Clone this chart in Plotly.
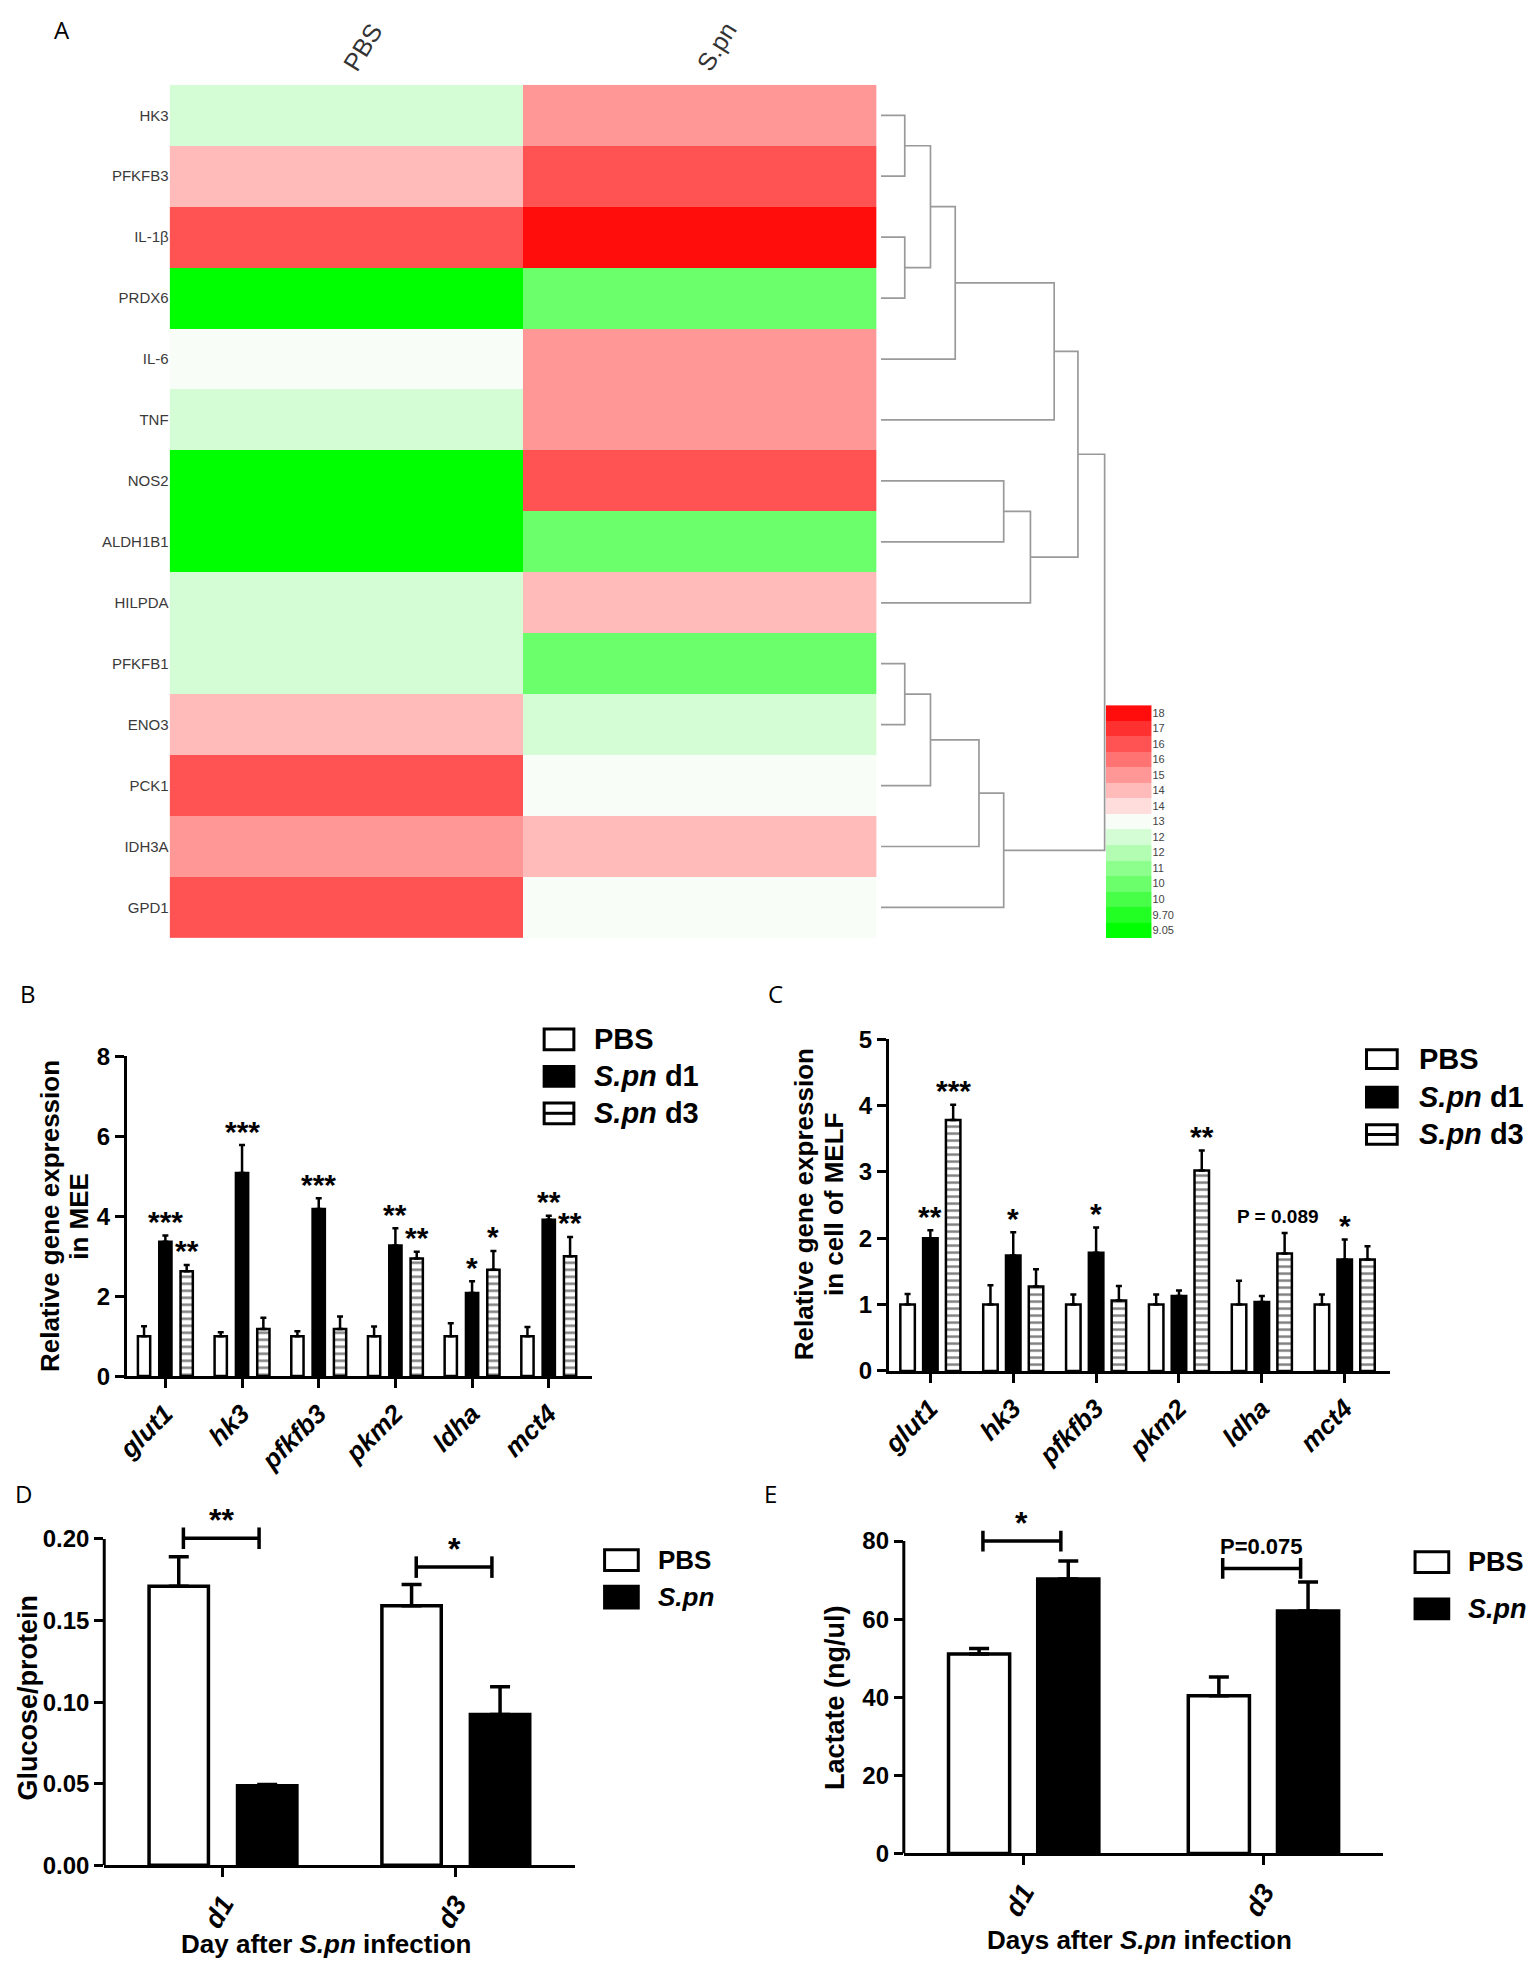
import numpy as np
import plotly.graph_objects as go

# the page body has an 8px margin, so the figure is drawn 16px smaller and all
# reference pixel positions are shifted by that margin
OFF = 8
W, H = 1536 - 2 * OFF, 1980 - 2 * OFF
ARIAL = "Liberation Sans, Arial, sans-serif"
LETTER = "Open Sans, DejaVu Sans, sans-serif"

# ---- panel A: heatmap ----
genes = ["HK3", "PFKFB3", "IL-1β", "PRDX6", "IL-6", "TNF", "NOS2", "ALDH1B1",
         "HILPDA", "PFKFB1", "ENO3", "PCK1", "IDH3A", "GPD1"]
heat_groups = ["PBS", "S.pn"]
pbs_expr = [12.3, 14.3, 16.4, 9.1, 13.0, 12.3, 9.1, 9.1, 12.3, 12.3, 14.3, 16.4, 15.0, 16.4]
spn_expr = [15.0, 16.4, 18.0, 10.3, 15.0, 15.0, 16.4, 10.3, 14.3, 10.3, 12.3, 13.0, 14.3, 13.0]
scale_labels = ["9.05", "9.70", "10", "10", "11", "12", "12", "13", "14", "14", "15", "16", "16", "17", "18"]
scale_edges = [9.0, 9.5, 9.9, 10.2, 10.8, 11.6, 12.1, 12.8, 13.6, 14.1, 14.7, 15.5, 16.2, 16.8, 17.6]
scale_colors = ["#00ff00", "#22ff22", "#46ff46", "#6cff6c", "#8dff8d", "#b2fdb2", "#d5fdd5", "#f8fdf8",
                "#ffdddd", "#ffbaba", "#ff9797", "#ff7373", "#ff5252", "#ff3030", "#ff0d0d"]
# (left node, right node, height) ; leaves are 0..13, new nodes numbered from 14
merges = [(0, 1, 0.24), (2, 3, 0.24), (14, 15, 0.50), (16, 4, 0.75), (17, 5, 1.75),
          (6, 7, 1.24), (19, 8, 1.51), (18, 20, 1.99), (9, 10, 0.24), (22, 11, 0.50),
          (23, 12, 0.99), (24, 13, 1.24), (21, 25, 2.26)]

# ---- panels B, C: relative gene expression ----
targets = ["glut1", "hk3", "pfkfb3", "pkm2", "ldha", "mct4"]
mee_pbs = [1.0, 1.0, 1.0, 1.0, 1.0, 1.0]
mee_pbs_err = [0.25, 0.10, 0.12, 0.24, 0.32, 0.23]
mee_d1 = [3.36, 5.08, 4.18, 3.27, 2.08, 3.91]
mee_d1_err = [0.16, 0.70, 0.27, 0.43, 0.29, 0.10]
mee_d3 = [2.62, 1.18, 1.18, 2.94, 2.66, 3.00]
mee_d3_err = [0.16, 0.28, 0.31, 0.17, 0.47, 0.48]
mee_sig_d1 = ["***", "***", "***", "**", "*", "**"]
mee_sig_d3 = ["**", "", "", "**", "*", "**"]

melf_pbs = [1.0, 1.0, 1.0, 1.0, 1.0, 1.0]
melf_pbs_err = [0.16, 0.29, 0.15, 0.15, 0.36, 0.15]
melf_d1 = [2.00, 1.74, 1.78, 1.13, 1.04, 1.68]
melf_d1_err = [0.12, 0.35, 0.38, 0.08, 0.09, 0.30]
melf_d3 = [3.78, 1.27, 1.06, 3.02, 1.77, 1.68]
melf_d3_err = [0.23, 0.26, 0.22, 0.30, 0.31, 0.20]
melf_sig_d1 = ["**", "*", "*", "", "", "*"]
melf_sig_d3 = ["***", "", "", "**", "P = 0.089", ""]

# ---- panels D, E ----
days = ["d1", "d3"]
glucose_pbs = [0.171, 0.159]
glucose_pbs_err = [0.018, 0.013]
glucose_spn = [0.0487, 0.0924]
glucose_spn_err = [0.0008, 0.017]
glucose_sig = ["**", "*"]
glucose_bracket = [0.2004, 0.1827]

lactate_pbs = [51.1, 40.4]
lactate_pbs_err = [1.4, 4.8]
lactate_spn = [70.3, 62.1]
lactate_spn_err = [4.6, 7.4]
lactate_sig = ["*", "P=0.075"]
lactate_bracket = [80.0, 73.0]


def px(x):
    return (x - OFF) / W


def py(y):
    return 1 - (y - OFF) / H


def to_level(values):
    return [int(np.searchsorted(scale_edges, v, side="right") - 1) for v in values]


def dendrogram_paths(links, n_leaves):
    pos = {i: (float(i), 0.0) for i in range(n_leaves)}
    xs, ys = [], []
    for k, (a, b, h) in enumerate(links):
        ya, ha = pos[a]
        yb, hb = pos[b]
        xs += [ha, h, h, hb, None]
        ys += [ya, ya, yb, yb, None]
        pos[n_leaves + k] = ((ya + yb) / 2, h)
    return xs, ys


def bar(values, errors, shift, width, style, axes, line_w, cap_w, err_w):
    idx = np.arange(len(values))
    marker = {"color": "black" if style == "solid" else "white",
              "line": {"color": "black", "width": line_w}}
    if style == "stripe":
        marker["pattern"] = {"shape": "-", "fgcolor": "black", "bgcolor": "white",
                             "size": 7, "solidity": 0.35, "fillmode": "overlay"}
    return go.Bar(
        x=idx, y=values, width=width, offset=shift - width / 2,
        marker=marker,
        error_y={"type": "data", "symmetric": False, "array": errors,
                 "arrayminus": [0] * len(values), "color": "black",
                 "thickness": err_w, "width": cap_w},
        xaxis=axes[0], yaxis=axes[1], showlegend=False, hoverinfo="skip",
    )


fig = go.Figure()
annotations = []
shapes = []

# heatmap
n_bins = len(scale_colors)
colorscale = []
for i, c in enumerate(scale_colors):
    colorscale += [[i / n_bins, c], [(i + 1) / n_bins, c]]
levels = [[a, b] for a, b in zip(to_level(pbs_expr), to_level(spn_expr))]
fig.add_trace(go.Heatmap(z=levels, x=[0, 1], y=list(range(len(genes))), colorscale=colorscale,
                         zmin=-0.5, zmax=n_bins - 0.5, showscale=False, hoverinfo="skip",
                         xaxis="x", yaxis="y"))
dx, dy = dendrogram_paths(merges, len(genes))
fig.add_trace(go.Scatter(x=dx, y=dy, mode="lines", line={"color": "#9a9a9a", "width": 1.7},
                         xaxis="x2", yaxis="y2", showlegend=False, hoverinfo="skip"))
fig.add_trace(go.Heatmap(z=[[i] for i in range(n_bins)], x=[0], y=list(range(n_bins)),
                         colorscale=colorscale, zmin=-0.5, zmax=n_bins - 0.5, showscale=False,
                         hoverinfo="skip", xaxis="x3", yaxis="y3"))

# B and C
shift3 = {"B": 0.278, "C": 0.275}
for key, axes, data, width in [
    ("B", ("x4", "y4"), (mee_pbs, mee_pbs_err, mee_d1, mee_d1_err, mee_d3, mee_d3_err, mee_sig_d1, mee_sig_d3), 0.16),
    ("C", ("x5", "y5"), (melf_pbs, melf_pbs_err, melf_d1, melf_d1_err, melf_d3, melf_d3_err, melf_sig_d1, melf_sig_d3), 0.175),
]:
    pbs, pbs_e, d1, d1_e, d3, d3_e, sig1, sig3 = data
    s = shift3[key]
    fig.add_trace(bar(pbs, pbs_e, -s, width, "open", axes, 2.5, 3, 2.5))
    fig.add_trace(bar(d1, d1_e, 0.0, width, "solid", axes, 2.5, 3, 2.5))
    fig.add_trace(bar(d3, d3_e, s, width, "stripe", axes, 2.5, 3, 2.5))
    for i in range(len(targets)):
        for lab, val, err, off in [(sig1[i], d1[i], d1_e[i], 0.0), (sig3[i], d3[i], d3_e[i], s)]:
            if not lab:
                continue
            is_p = lab.startswith("P")
            annotations.append(dict(
                x=i + (off - 0.085 if is_p else off), y=val + err, xref=axes[0], yref=axes[1],
                text=lab, showarrow=False, yanchor="middle", yshift=16 if is_p else 14,
                font={"family": ARIAL, "size": 19 if is_p else 30, "color": "black", "weight": "bold"}))

# D and E
for axes, pbs, pbs_e, spn, spn_e, sig, brk, tick, fsize in [
    (("x6", "y6"), glucose_pbs, glucose_pbs_err, glucose_spn, glucose_spn_err, glucose_sig, glucose_bracket, 0.0066, 0.19),
    (("x7", "y7"), lactate_pbs, lactate_pbs_err, lactate_spn, lactate_spn_err, lactate_sig, lactate_bracket, 2.65, 0.186),
]:
    fig.add_trace(bar(pbs, pbs_e, -fsize, 0.255, "open", axes, 3.5, 10, 3.5))
    fig.add_trace(bar(spn, spn_e, fsize, 0.255, "solid", axes, 3.5, 10, 3.5))
    bx, by = [], []
    lo, hi = -0.17, 0.155
    for i, h in enumerate(brk):
        bx += [i + lo, i + lo, None, i + lo, i + hi, None, i + hi, i + hi, None]
        by += [h - tick, h + tick, None, h, h, None, h - tick, h + tick, None]
        is_p = sig[i].startswith("P")
        annotations.append(dict(
            x=i + (lo + hi) / 2, y=h, xref=axes[0], yref=axes[1], text=sig[i], showarrow=False,
            yanchor="middle", yshift=22 if is_p else 18,
            font={"family": ARIAL, "size": 22 if is_p else 32, "color": "black", "weight": "bold"}))
    fig.add_trace(go.Scatter(x=bx, y=by, mode="lines", line={"color": "black", "width": 3.5},
                             xaxis=axes[0], yaxis=axes[1], showlegend=False, hoverinfo="skip"))

# y-axis lines of D and E stop at the top tick
shapes.append(dict(type="line", xref="paper", yref="y6", x0=px(91), x1=px(91), y0=0, y1=0.2,
                   line={"color": "black", "width": 3}))
shapes.append(dict(type="line", xref="paper", yref="y7", x0=px(898), x1=px(898), y0=0, y1=80,
                   line={"color": "black", "width": 3}))


def box_legend(x0, x1, rows, text_x, size):
    for y0, y1, style, text in rows:
        shapes.append(dict(type="rect", xref="paper", yref="paper", x0=px(x0), x1=px(x1),
                           y0=py(y1), y1=py(y0), fillcolor="black" if style == "solid" else "white",
                           line={"color": "black", "width": 3}))
        if style == "stripe":
            shapes.append(dict(type="line", xref="paper", yref="paper", x0=px(x0), x1=px(x1),
                               y0=py((y0 + y1) / 2), y1=py((y0 + y1) / 2),
                               line={"color": "black", "width": 3}))
        annotations.append(dict(x=px(text_x), y=py((y0 + y1) / 2), xref="paper", yref="paper",
                                text=text, showarrow=False, xanchor="left", yanchor="middle",
                                font={"family": ARIAL, "size": size, "color": "black", "weight": "bold"}))


box_legend(535, 565, [(1029, 1050, "open", "PBS"), (1067, 1087, "solid", "<i>S.pn</i> d1"),
                      (1104, 1125, "stripe", "<i>S.pn</i> d3")], 583, 29)
box_legend(1365, 1396, [(1050, 1069, "open", "PBS"), (1088, 1108, "solid", "<i>S.pn</i> d1"),
                        (1126, 1146, "stripe", "<i>S.pn</i> d3")], 1416, 29)
box_legend(596, 630, [(1557, 1578, "open", "PBS"), (1594, 1616, "solid", "<i>S.pn</i>")], 648, 26)
box_legend(1414, 1448, [(1559, 1580, "open", "PBS"), (1607, 1627, "solid", "<i>S.pn</i>")], 1465, 27)

# axis titles and panel letters
for text, x, y, angle, size in [
    ("Relative gene expression", 37, 1219, -90, 26), ("in MEE", 66, 1219, -90, 26),
    ("Relative gene expression", 797, 1207, -90, 26), ("in cell of MELF", 827, 1207, -90, 26),
    ("Glucose/protein", 14, 1707, -90, 27), ("Lactate (ng/ul)", 828, 1707, -90, 27),
    ("Day after <i>S.pn</i> infection", 315, 1957, 0, 26),
    ("Days after <i>S.pn</i> infection", 1136, 1953, 0, 26),
]:
    annotations.append(dict(x=px(x), y=py(y), xref="paper", yref="paper", text=text, textangle=angle,
                            showarrow=False, xanchor="center", yanchor="middle",
                            font={"family": ARIAL, "size": size, "color": "black", "weight": "bold"}))
for letter, x, y in [("A", 48, 16), ("B", 14, 993), ("C", 769, 993), ("D", 10, 1500), ("E", 763, 1500)]:
    annotations.append(dict(x=px(x), y=py(y), xref="paper", yref="paper", text=letter, showarrow=False,
                            xanchor="center", yanchor="middle",
                            font={"family": LETTER, "size": 24, "color": "black"}))

plain = {"showgrid": False, "zeroline": False}
num_font = {"family": ARIAL, "size": 24, "color": "black", "weight": "bold"}
cat_font = {"family": ARIAL, "size": 26, "color": "black", "weight": "bold", "style": "italic"}
tick_style = {"ticks": "outside", "ticklen": 9, "tickwidth": 3, "tickcolor": "black"}
line_style = {"showline": True, "linecolor": "black", "linewidth": 3}

fig.update_layout(
    width=W, height=H,
    margin={"l": 0, "r": 0, "t": 0, "b": 0},
    paper_bgcolor="white", plot_bgcolor="rgba(0,0,0,0)",
    barmode="overlay", showlegend=False,
    font={"family": ARIAL, "color": "black"},
    xaxis={**plain, "domain": [px(157), px(870.5)], "range": [-0.5, 1.5], "side": "top",
           "tickvals": [0, 1], "ticktext": heat_groups, "tickangle": -58, "ticks": "",
           "tickfont": {"family": ARIAL, "size": 25, "color": "#333333"}, "anchor": "y"},
    yaxis={**plain, "domain": [py(936.7), py(71.7)], "range": [len(genes) - 0.5, -0.5],
           "tickvals": list(range(len(genes))), "ticktext": genes, "ticks": "",
           "tickfont": {"family": ARIAL, "size": 15, "color": "#3a3a3a"}, "anchor": "x"},
    xaxis2={**plain, "domain": [px(870), px(1106.7)], "range": [-0.05, 2.32], "visible": False, "anchor": "y2"},
    yaxis2={**plain, "domain": [py(936.7), py(71.7)], "range": [len(genes) - 0.5, -0.5],
            "visible": False, "anchor": "x2"},
    xaxis3={**plain, "domain": [px(1102), px(1148)], "range": [-0.5, 0.5], "visible": False, "anchor": "y3"},
    yaxis3={**plain, "domain": [py(936.7), py(700.7)], "range": [-0.5, n_bins - 0.5], "side": "right",
            "tickvals": list(range(n_bins)), "ticktext": scale_labels, "ticks": "",
            "tickfont": {"family": ARIAL, "size": 11, "color": "#444444"}, "anchor": "x3"},
    xaxis4={**plain, **tick_style, **line_style, "domain": [px(114), px(583)], "range": [-0.5, 5.56],
            "tickvals": list(range(len(targets))), "ticktext": targets, "tickangle": -45,
            "tickfont": cat_font, "anchor": "y4"},
    yaxis4={**plain, **tick_style, **line_style, "domain": [py(1381), py(1056.7)], "range": [0, 8],
            "dtick": 2, "tickfont": num_font, "anchor": "x4"},
    xaxis5={**plain, **tick_style, **line_style, "domain": [px(883), px(1389)], "range": [-0.5, 5.55],
            "tickvals": list(range(len(targets))), "ticktext": targets, "tickangle": -45,
            "tickfont": cat_font, "anchor": "y5"},
    yaxis5={**plain, **tick_style, **line_style, "domain": [py(1375.7), py(1039.3)], "range": [0, 5],
            "dtick": 1, "tickfont": num_font, "anchor": "x5"},
    xaxis6={**plain, **tick_style, **line_style, "domain": [px(91), px(565.7)], "range": [-0.51, 1.51],
            "tickvals": [0, 1], "ticktext": days, "tickangle": -60,
            "tickfont": {**cat_font, "size": 27}, "anchor": "y6"},
    yaxis6={**plain, **tick_style, "showline": False, "domain": [py(1877), py(1521.2)], "range": [0, 0.215],
            "tickvals": [0, 0.05, 0.10, 0.15, 0.20], "tickformat": ".2f", "tickfont": num_font, "anchor": "x6"},
    xaxis7={**plain, **tick_style, **line_style, "domain": [px(898), px(1382)], "range": [-0.5, 1.5],
            "tickvals": [0, 1], "ticktext": days, "tickangle": -60,
            "tickfont": {**cat_font, "size": 27}, "anchor": "y7"},
    yaxis7={**plain, **tick_style, "showline": False, "domain": [py(1865), py(1532.4)], "range": [0, 84],
            "tickvals": [0, 20, 40, 60, 80], "tickfont": num_font, "anchor": "x7"},
    annotations=annotations,
    shapes=shapes,
)

fig.write_html("out.html")
